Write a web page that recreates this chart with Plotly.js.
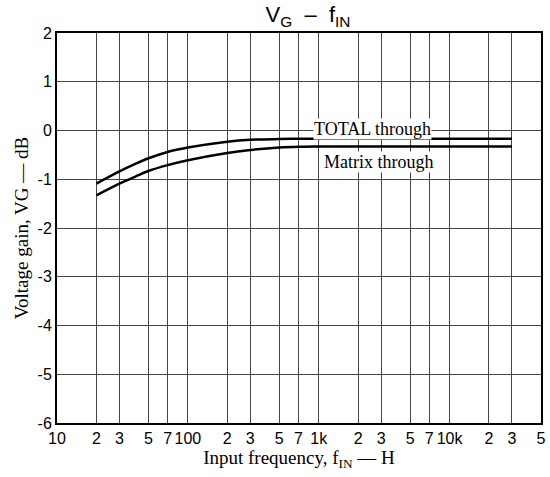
<!DOCTYPE html>
<html>
<head>
<meta charset="utf-8">
<script src="https://cdn.plot.ly/plotly-3.0.1.min.js"></script>
<style>html,body{margin:0;padding:0;background:#fff;}#chart{width:550px;height:477px;}</style>
</head>
<body>
<div id="chart"></div>
<script>
var freq = [20, 30, 40, 50, 70, 100, 200, 300, 500, 700, 1000, 2000, 5000, 10000, 30000];
var totalThrough = [-1.09, -0.84, -0.68, -0.57, -0.44, -0.35, -0.23, -0.19, -0.175, -0.17, -0.17, -0.17, -0.17, -0.17, -0.17];
var matrixThrough = [-1.33, -1.09, -0.94, -0.83, -0.71, -0.61, -0.46, -0.40, -0.35, -0.335, -0.33, -0.33, -0.33, -0.33, -0.33];
var xTickVals = [10, 20, 30, 50, 70, 100, 200, 300, 500, 700, 1000, 2000, 3000, 5000, 7000, 10000, 20000, 30000, 50000];
var xTickText = ["10", "2", "3", "5", "7", "100", "2", "3", "5", "7", "1k", "2", "3", "5", "7", "10k", "2", "3", "5"];
var yTickVals = [-6, -5, -4, -3, -2, -1, 0, 1, 2];
var yTickText = ["-6", "-5", "-4", "-3", "-2", "-1", "0", "1", "2"];
var seriesNames = ["TOTAL through", "Matrix through"];

var sans = "Liberation Sans, Arial, sans-serif";
var serif = "Liberation Serif, Times New Roman, serif";

var traces = [
  {x: freq, y: totalThrough, name: seriesNames[0], mode: "lines", line: {color: "#000", width: 2.5, shape: "spline", smoothing: 1}},
  {x: freq, y: matrixThrough, name: seriesNames[1], mode: "lines", line: {color: "#000", width: 2.5, shape: "spline", smoothing: 1}}
];

var layout = {
  width: 550, height: 477,
  margin: {l: 57, r: 9, t: 33, b: 54},
  paper_bgcolor: "#fff", plot_bgcolor: "#fff",
  showlegend: false,
  title: {text: "V<sub>G</sub>  \u2013  f<sub>IN</sub>", font: {family: sans, size: 22, color: "#000"}, x: 0.56, xanchor: "center", y: 0.986, yanchor: "top"},
  xaxis: {
    type: "log", range: [1, Math.log10(50000)],
    tickmode: "array", tickvals: xTickVals, ticktext: xTickText,
    tickfont: {family: sans, size: 16, color: "#000"},
    showgrid: true, gridcolor: "#444", gridwidth: 1,
    showline: true, linecolor: "#000", linewidth: 2, mirror: true,
    ticks: "", zeroline: false,
    title: {text: "Input frequency, f<sub>IN</sub> \u2014 H", font: {family: serif, size: 19, color: "#000"}, standoff: 2}
  },
  yaxis: {
    range: [-6, 2],
    tickmode: "array", tickvals: yTickVals, ticktext: yTickText,
    tickfont: {family: sans, size: 16, color: "#000"},
    showgrid: true, gridcolor: "#444", gridwidth: 1,
    showline: true, linecolor: "#000", linewidth: 2, mirror: true,
    ticks: "", zeroline: false,
    title: {text: "Voltage gain, VG \u2014 dB", font: {family: serif, size: 19, color: "#000"}, standoff: 4}
  },
  annotations: [
    {x: Math.log10(2600), y: 0.03, xref: "x", yref: "y", text: seriesNames[0], showarrow: false, font: {family: serif, size: 18, color: "#000"}, bgcolor: "#fff", borderpad: 0},
    {x: Math.log10(2900), y: -0.64, xref: "x", yref: "y", text: seriesNames[1], showarrow: false, font: {family: serif, size: 18, color: "#000"}, bgcolor: "#fff", borderpad: 0}
  ]
};

Plotly.newPlot("chart", traces, layout, {displayModeBar: false, staticPlot: true});
</script>
</body>
</html>
